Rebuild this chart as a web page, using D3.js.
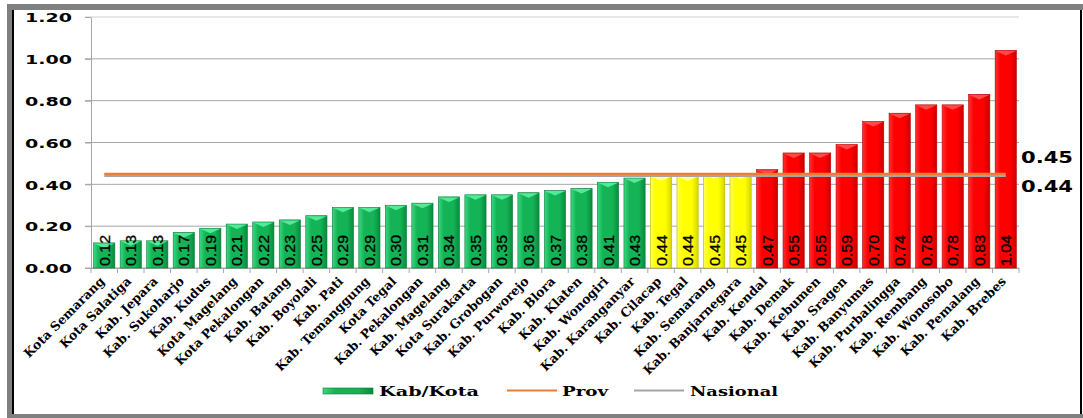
<!DOCTYPE html>
<html><head><meta charset="utf-8">
<script src="https://cdn.jsdelivr.net/npm/d3@7"></script>
<style>body{margin:0;background:#fff}svg{display:block}</style></head>
<body>
<script>
const categories = ["Kota Semarang","Kota Salatiga","Kab. Jepara","Kab. Sukoharjo","Kab. Kudus","Kota Magelang","Kota Pekalongan","Kab. Batang","Kab. Boyolali","Kab. Pati","Kab. Temanggung","Kota Tegal","Kab. Pekalongan","Kab. Magelang","Kota Surakarta","Kab. Grobogan","Kab. Purworejo","Kab. Blora","Kab. Klaten","Kab. Wonogiri","Kab. Karanganyar","Kab. Cilacap","Kab. Tegal","Kab. Semarang","Kab. Banjarnegara","Kab. Kendal","Kab. Demak","Kab. Kebumen","Kab. Sragen","Kab. Banyumas","Kab. Purbalingga","Kab. Rembang","Kab. Wonosobo","Kab. Pemalang","Kab. Brebes"];
const values = [0.12,0.13,0.13,0.17,0.19,0.21,0.22,0.23,0.25,0.29,0.29,0.30,0.31,0.34,0.35,0.35,0.36,0.37,0.38,0.41,0.43,0.44,0.44,0.45,0.45,0.47,0.55,0.55,0.59,0.70,0.74,0.78,0.78,0.83,1.04];
const provValue = 0.45;
const nasionalValue = 0.44;
const yTicks = [0,0.2,0.4,0.6,0.8,1.0,1.2];
const legendLabels = ["Kab/Kota","Prov","Nasional"];

const W = 1083, H = 418;
const svg = d3.select("body").append("svg").attr("width", W).attr("height", H);

// frame
svg.append("rect").attr("x",7).attr("y",4).attr("width",W-7).attr("height",6).attr("fill","#808080");
svg.append("rect").attr("x",7).attr("y",4).attr("width",5).attr("height",H-4).attr("fill","#808080");
svg.append("rect").attr("x",7).attr("y",414).attr("width",W-7).attr("height",4).attr("fill","#808080");
svg.append("rect").attr("x",12).attr("y",10).attr("width",2).attr("height",404).attr("fill","#000");
svg.append("rect").attr("x",1080).attr("y",10).attr("width",2).attr("height",404).attr("fill","#000");

const x = d3.scaleBand().domain(categories).range([91,1019]).paddingInner(0.2).paddingOuter(0.1);
const y = d3.scaleLinear().domain([0,1.2]).range([268,17]);

const defs = svg.append("defs");
const palettes = {
  green: {l:"#3ad884", m:"#14b456", r:"#0a8a3e", bevel:"#52ea98", stroke:"#0a7a36"},
  yellow:{l:"#ffff5a", m:"#ffff00", r:"#d6d600", bevel:"#ffff8a", stroke:"#b8b800"},
  red:   {l:"#ff3030", m:"#ff0000", r:"#cc0000", bevel:"#ff4a4a", stroke:"#b00000"}
};
Object.entries(palettes).forEach(([k,p])=>{
  const g = defs.append("linearGradient").attr("id","g-"+k).attr("x1","0").attr("x2","1").attr("y1","0").attr("y2","0");
  g.append("stop").attr("offset","0").attr("stop-color",p.l);
  g.append("stop").attr("offset","0.25").attr("stop-color",p.m);
  g.append("stop").attr("offset","0.7").attr("stop-color",p.m);
  g.append("stop").attr("offset","1").attr("stop-color",p.r);
});
function status(v){ return v < nasionalValue ? "green" : (v <= provValue ? "yellow" : "red"); }

// grid
svg.append("g").selectAll("line").data(yTicks).join("line")
  .attr("x1",85).attr("x2",1019).attr("y1",d=>y(d)).attr("y2",d=>y(d))
  .attr("stroke",d=>d===1.2?"#cfcfcf":"#a6a6a6").attr("stroke-width",1);

// y axis
const yAxis = svg.append("g").attr("transform","translate(91,0)")
  .call(d3.axisLeft(y).tickValues(yTicks).tickSize(6).tickSizeOuter(0).tickFormat(d3.format(".2f")));
yAxis.select(".domain").attr("stroke","#a6a6a6");
yAxis.selectAll(".tick line").attr("stroke","#a6a6a6");
yAxis.selectAll(".tick text").attr("x",-19).attr("dy","0.36em")
  .attr("font-family","DejaVu Sans").attr("font-weight","bold").attr("font-size",13)
  .attr("fill","#000").attr("textLength",47).attr("lengthAdjust","spacingAndGlyphs");

// x axis line and boundary ticks
svg.append("line").attr("x1",91).attr("x2",1019).attr("y1",268.5).attr("y2",268.5).attr("stroke","#a6a6a6");
const bounds = d3.range(categories.length+1).map(i => x.range()[0] + i*x.step());
svg.append("g").selectAll("line").data(bounds).join("line")
  .attr("x1",d=>d).attr("x2",d=>d).attr("y1",268).attr("y2",273).attr("stroke","#a6a6a6");

// bars
const bars = svg.append("g").selectAll("g").data(values.map((v,i)=>({c:categories[i],v}))).join("g");
bars.append("rect")
  .attr("x",d=>x(d.c)).attr("y",d=>y(d.v)).attr("width",x.bandwidth()).attr("height",d=>y(0)-y(d.v))
  .attr("fill",d=>`url(#g-${status(d.v)})`).attr("stroke",d=>palettes[status(d.v)].stroke).attr("stroke-width",0.6);
bars.append("path")
  .attr("d",d=>{const x0=x(d.c), w=x.bandwidth(), t=y(d.v); return `M${x0+0.5},${t+0.5}L${x0+w-0.5},${t+0.5}L${x0+w/2},${t+5}Z`;})
  .attr("fill",d=>palettes[status(d.v)].bevel);
bars.append("text")
  .attr("transform",d=>`translate(${x(d.c)+x.bandwidth()/2+5.5},${y(0)-2}) rotate(-90)`)
  .attr("font-family","Liberation Sans, Arial").attr("font-size",15).attr("fill","#000")
  .attr("stroke","#000").attr("stroke-width",0.3)
  .attr("textLength",31).attr("lengthAdjust","spacingAndGlyphs")
  .text(d=>d3.format(".2f")(d.v));

// reference lines
const x1 = x(categories[0])+x.bandwidth()/2, x2 = x(categories[categories.length-1])+x.bandwidth()/2;
svg.append("line").attr("x1",x1).attr("x2",x2).attr("y1",y(nasionalValue)).attr("y2",y(nasionalValue))
  .attr("stroke","#a5a5a5").attr("stroke-width",2.2);
svg.append("line").attr("x1",x1).attr("x2",x2).attr("y1",y(provValue)).attr("y2",y(provValue))
  .attr("stroke","#ed7d31").attr("stroke-width",2.2);

// right value labels
svg.append("text").attr("x",1021).attr("y",163).text(d3.format(".2f")(provValue))
  .attr("font-family","DejaVu Sans").attr("font-weight","bold").attr("font-size",16)
  .attr("textLength",52).attr("lengthAdjust","spacingAndGlyphs");
svg.append("text").attr("x",1021).attr("y",192).text(d3.format(".2f")(nasionalValue))
  .attr("font-family","DejaVu Sans").attr("font-weight","bold").attr("font-size",16)
  .attr("textLength",52).attr("lengthAdjust","spacingAndGlyphs");

// category labels
svg.append("g").selectAll("text").data(categories).join("text")
  .attr("transform",d=>`translate(${x(d)+x.bandwidth()/2-2},${279}) rotate(-45)`)
  .attr("text-anchor","end").attr("dy","0.35em")
  .attr("font-family","DejaVu Serif").attr("font-weight","bold").attr("font-size",12.5)
  .text(d=>d);

// legend
const lg = svg.append("g");
lg.append("rect").attr("x",323).attr("y",388).attr("width",50).attr("height",6)
  .attr("fill","url(#g-green)").attr("stroke",palettes.green.stroke).attr("stroke-width",0.6);
lg.append("line").attr("x1",507).attr("x2",557).attr("y1",390.5).attr("y2",390.5).attr("stroke","#ed7d31").attr("stroke-width",2.2);
lg.append("line").attr("x1",634).attr("x2",684).attr("y1",390.5).attr("y2",390.5).attr("stroke","#a5a5a5").attr("stroke-width",2.2);
const legendPos = [[379,100],[562,46],[690,88]];
lg.selectAll("text").data(legendLabels).join("text")
  .attr("x",(d,i)=>legendPos[i][0]).attr("y",396)
  .attr("textLength",(d,i)=>legendPos[i][1]).attr("lengthAdjust","spacingAndGlyphs")
  .attr("font-family","DejaVu Serif").attr("font-weight","bold").attr("font-size",13)
  .text(d=>d);
</script>
</body></html>
